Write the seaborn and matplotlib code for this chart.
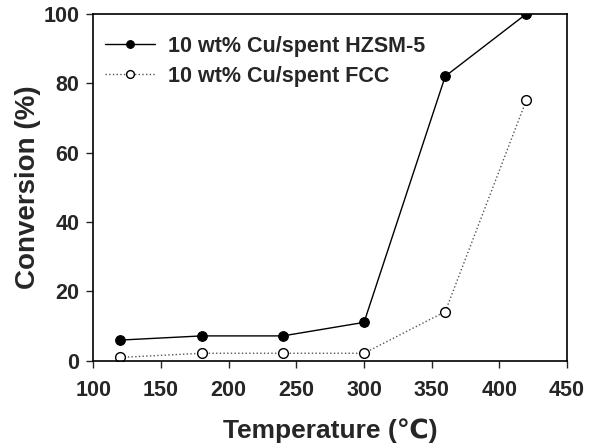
import matplotlib
matplotlib.use("Agg")
import matplotlib.pyplot as plt
import seaborn as sns

temperature = [120, 180, 240, 300, 360, 420]
hzsm5 = [6.0, 7.2, 7.2, 11.1, 82.0, 100.0]
fcc = [1.0, 2.2, 2.2, 2.2, 14.2, 75.2]
labels = ["10 wt% Cu/spent HZSM-5", "10 wt% Cu/spent FCC"]

sns.set_style("ticks")
plt.rcParams["font.family"] = ["Liberation Sans", "DejaVu Sans"]
plt.rcParams["font.weight"] = "bold"

fig = plt.figure(figsize=(5.95, 4.45), dpi=100)
ax = fig.add_axes([0.157, 0.189, 0.796, 0.780])

sns.lineplot(x=temperature, y=hzsm5, ax=ax, color="black", linewidth=1.0,
             marker="o", markersize=7, markerfacecolor="black",
             markeredgecolor="black", label=labels[0])
sns.lineplot(x=temperature, y=fcc, ax=ax, color="#555555", linewidth=1.0,
             linestyle=":", marker="o", markersize=7, markerfacecolor="white",
             markeredgecolor="black", markeredgewidth=1.0, label=labels[1])

ax.set_xlim(100, 450)
ax.set_ylim(0, 100)
ax.set_xticks(range(100, 451, 50))
ax.set_yticks(range(0, 101, 20))
ax.tick_params(axis="both", direction="out", length=5, width=1.0,
               labelsize=15.5)
ax.tick_params(axis="x", pad=9)
ax.tick_params(axis="y", pad=5)
for lab in ax.get_xticklabels() + ax.get_yticklabels():
    lab.set_fontweight("bold")
for sp in ax.spines.values():
    sp.set_linewidth(1.2)
    sp.set_color("black")

ax.set_xlabel("Temperature (\u2103)", fontsize=19, fontweight="bold", labelpad=12)
ax.set_ylabel("Conversion (%)", fontsize=20, fontweight="bold", labelpad=2)

leg = ax.legend(loc="upper left", bbox_to_anchor=(0.007, 0.961), frameon=False,
                fontsize=15.5, handlelength=2.3, borderaxespad=0,
                labelspacing=0.4, handletextpad=0.6, markerscale=0.8)
for t in leg.get_texts():
    t.set_fontweight("bold")

fig.savefig("out.png", dpi=100)
